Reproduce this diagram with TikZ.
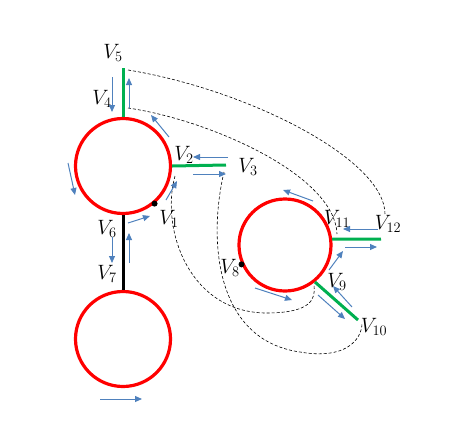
\documentclass[tikz,border=0pt]{standalone}
\usepackage{tikz}
\usetikzlibrary{arrows.meta}
\definecolor{ringred}{RGB}{255,0,0}
\definecolor{stubgreen}{RGB}{0,176,80}
\definecolor{flowblue}{RGB}{79,129,189}
\tikzset{
    ring/.style={draw=ringred, line width=3.2pt, circle, inner sep=0pt},
    stub/.style={draw=stubgreen, line width=3pt},
    rod/.style={draw=black, line width=3pt},
    flow/.style={draw=flowblue, line width=1pt, -{Triangle[length=7pt, width=6pt]}},
    link/.style={draw=black, line width=0.6pt, dash pattern=on 3pt off 2pt},
    joint/.style={circle, fill, inner sep=0pt, minimum size=6pt},
    vlab/.style={font=\fontsize{20}{24}\selectfont}
}
\begin{document}
\begin{tikzpicture}[x=1pt, y=-1pt]
    \useasboundingbox (0,0) rectangle (451,437);

    % rings
    \node[ring, minimum size=95pt] (ra) at (123,166) {};
    \node[ring, minimum size=95pt] (rb) at (123,339) {};
    \node[ring, minimum size=92pt] (rc) at (285,245) {};

    % stub ends
    \coordinate (e5) at (123,68);
    \coordinate (e3) at (226,165);
    \coordinate (e12) at (381,239);
    \coordinate (e10) at (358,320);

    \draw[stub] (ra.north) -- (e5);
    \draw[stub] (ra.east) -- (e3);
    \draw[rod] (ra.south) -- (rb.north);
    \draw[stub] (rc.7) -- (e12);
    \draw[stub] (rc.-51) -- (e10);

    \node[joint] (j1) at (ra.-50) {};
    \node[joint] (j8) at (rc.204) {};

    % labels
    \node[vlab] (v1) at (169,219) {$V_1$};
    \node[vlab] (v2) at (184,155) {$V_2$};
    \node[vlab] (v3) at (248,167) {$V_3$};
    \node[vlab] (v4) at (102,99) {$V_4$};
    \node[vlab] (v5) at (113,53) {$V_5$};
    \node[vlab] (v6) at (107,229) {$V_6$};
    \node[vlab] (v7) at (107,274) {$V_7$};
    \node[vlab] (v8) at (230,268) {$V_8$};
    \node[vlab] (v9) at (337,282) {$V_9$};
    \node[vlab] (v10) at (374,327) {$V_{10}$};
    \node[vlab] (v11) at (337,219) {$V_{11}$};
    \node[vlab] (v12) at (388,224) {$V_{12}$};

    % dashed links
    \coordinate (d5) at (128,70);
    \coordinate (d12) at (385,214);
    \coordinate (d4) at (128,108);
    \coordinate (d11) at (337,234);
    \coordinate (d3) at (224,172);
    \coordinate (d10) at (362,323);
    \coordinate (d1) at (175,176);
    \coordinate (d9) at (314,285);

    \draw[link] (d5) .. controls (250,90) and (385,160) .. (d12);
    \draw[link] (d4) .. controls (210,120) and (335,175) .. (d11);
    \draw[link] (d3) .. controls (208,240) and (215,340) .. (300,352)
        .. controls (345,360) and (362,340) .. (d10);
    \draw[link] (d1) .. controls (160,230) and (190,315) .. (270,313)
        .. controls (310,312) and (316,300) .. (d9);

    % flow arrows
    \foreach \xa/\ya/\xb/\yb in {112/77/112/112, 129/108/129/78, 169/137/151/115,
        228/157/193/157, 193/174/226/174, 68/163/75/195, 166/200/177/181,
        128/223/150/216, 112/237/112/263, 129/263/129/233, 100/399/142/399,
        313/201/283/190, 378/229/343/229, 345/247/377/247, 329/270/343/251,
        352/307/333/286, 318/295/345/319, 255/288/292/300}
        \draw[flow] (\xa,\ya) -- (\xb,\yb);
\end{tikzpicture}
\end{document}
